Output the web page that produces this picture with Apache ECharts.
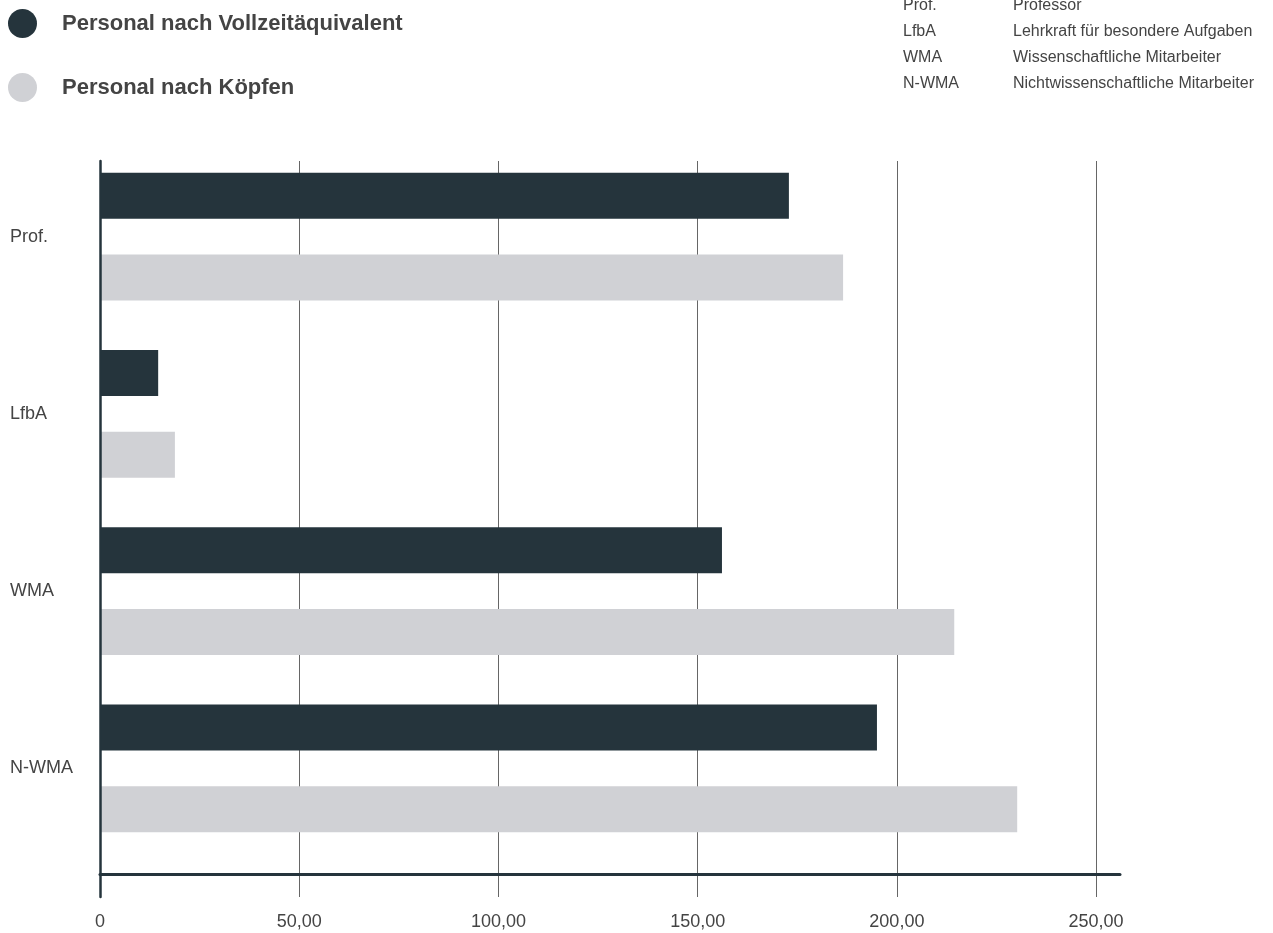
<!DOCTYPE html>
<html>
<head>
<meta charset="utf-8">
<script src="https://cdn.jsdelivr.net/npm/echarts@6/dist/echarts.min.js"></script>
<style>
  html, body { margin: 0; padding: 0; background: #fff; }
  #chart { width: 1273px; height: 933px; }
</style>
</head>
<body>
<div id="chart"></div>
<script>
// data
var categories = ['Prof.', 'LfbA', 'WMA', 'N-WMA'];
var seriesNames = ['Personal nach Vollzeitäquivalent', 'Personal nach Köpfen'];
var vzaValues = [172.9, 14.6, 156.1, 195.0];
var koepfeValues = [186.5, 18.8, 214.4, 230.2];
var tickValues = [0, 50, 100, 150, 200, 250];
var abbrKeys = ['Prof.', 'LfbA', 'WMA', 'N-WMA'];
var abbrTexts = ['Professor', 'Lehrkraft für besondere Aufgaben', 'Wissenschaftliche Mitarbeiter', 'Nichtwissenschaftliche Mitarbeiter'];

var dark = '#25343c';
var light = '#d0d1d5';
var textColor = '#444';
var font = 'Liberation Sans, Arial, Helvetica, sans-serif';

var fmt = function (v) {
    if (v === 0) return '0';
    return v.toFixed(2).replace('.', ',');
};

// Abkürzungen oben rechts
var graphics = [];
abbrKeys.forEach(function (k, i) {
    var y = 7 + i * 25.8;
    graphics.push({
        type: 'text', left: 903, top: y - 9,
        style: { text: k, fill: textColor, font: '16px ' + font }
    });
    graphics.push({
        type: 'text', left: 1013, top: y - 9,
        style: { text: abbrTexts[i], fill: textColor, font: '16px ' + font }
    });
});

var chart = echarts.init(document.getElementById('chart'));
var option = {
    backgroundColor: '#fff',
    animation: false,
    textStyle: { fontFamily: font },
    legend: {
        orient: 'vertical',
        left: 3,
        top: 4,
        icon: 'circle',
        itemWidth: 29,
        itemHeight: 29,
        itemGap: 35,
        data: seriesNames,
        textStyle: {
            fontSize: 22,
            fontWeight: 'bold',
            color: textColor,
            fontFamily: font,
            padding: [0, 0, 0, 20]
        }
    },
    graphic: graphics,
    grid: [
        // achsen + gitterlinien
        { left: 100, right: 153, top: 161, bottom: 36 },
        // balken
        { left: 100, right: 153, top: 148, height: 709 }
    ],
    xAxis: [{
        gridIndex: 0,
        type: 'value',
        min: 0,
        max: 256,
        interval: 50,
        axisLine: { show: false },
        axisTick: { show: false },
        axisLabel: {
            customValues: tickValues,
            margin: 16,
            fontSize: 18,
            color: textColor,
            fontFamily: font,
            formatter: fmt
        },
        splitLine: {
            show: true,
            showMaxLine: false,
            lineStyle: { color: '#666', width: 1 }
        }
    }, {
        gridIndex: 1,
        type: 'value',
        min: 0,
        max: 256,
        offset: 17,
        z: 5,
        axisLine: { show: true, lineStyle: { color: dark, width: 3 } },
        axisTick: { show: false },
        axisLabel: { show: false },
        splitLine: { show: false }
    }],
    yAxis: [{
        gridIndex: 0,
        type: 'category',
        data: categories,
        z: 5,
        axisLine: { show: true, lineStyle: { color: dark, width: 2.5 } },
        axisTick: { show: false },
        axisLabel: { show: false },
        splitLine: { show: false }
    }, {
        gridIndex: 1,
        type: 'category',
        inverse: true,
        data: categories,
        axisLine: { show: false },
        axisTick: { show: false },
        axisLabel: {
            align: 'left',
            margin: 90,
            fontSize: 18,
            color: textColor,
            fontFamily: font
        }
    }],
    series: [{
        name: seriesNames[0],
        type: 'bar',
        xAxisIndex: 1,
        yAxisIndex: 1,
        barWidth: 46,
        barGap: '78%',
        itemStyle: { color: dark },
        data: vzaValues
    }, {
        name: seriesNames[1],
        type: 'bar',
        xAxisIndex: 1,
        yAxisIndex: 1,
        barWidth: 46,
        barGap: '78%',
        itemStyle: { color: light },
        data: koepfeValues
    }]
};
chart.setOption(option);
window.onresize = chart.resize;
</script>
</body>
</html>
